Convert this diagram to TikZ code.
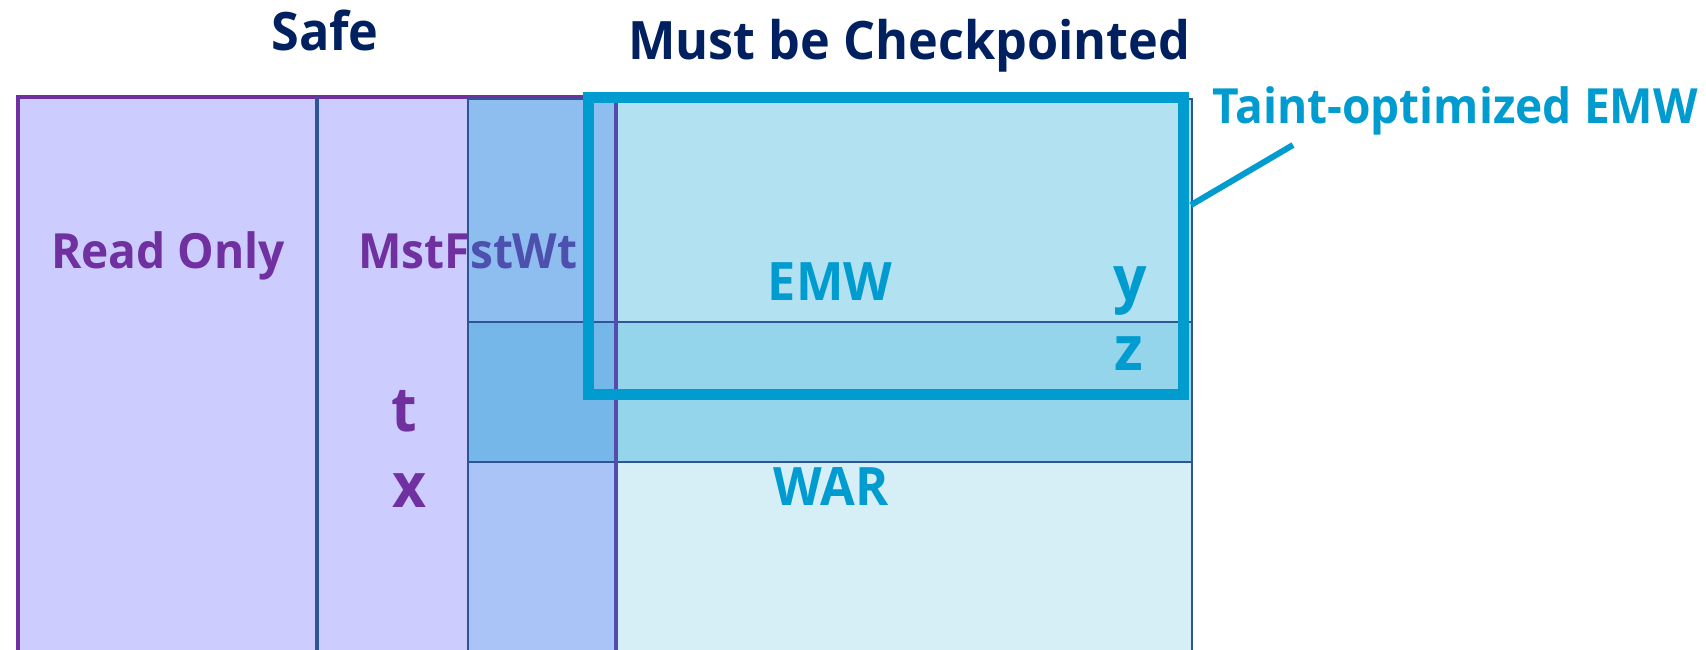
\documentclass[tikz,border=0pt]{standalone}
\usepackage{fontspec}
\setmainfont{Open Sans}[FakeStretch=0.95]
\definecolor{ropurple}{HTML}{7030A0}
\definecolor{rofill}{HTML}{CCCCFF}
\definecolor{darkrule}{HTML}{2F5597}
\definecolor{emwcyan}{HTML}{009BCF}
\definecolor{navytext}{HTML}{002060}
\tikzset{
  lbl/.style={anchor=base, inner sep=0pt, font=\bfseries\fontsize{48.5}{52}\selectfont},
  biglbl/.style={anchor=base, inner sep=0pt, font=\bfseries\fontsize{53}{56}\selectfont},
  var/.style={anchor=base, inner sep=0pt, font=\bfseries\fontsize{62}{66}\selectfont},
  head/.style={anchor=base, inner sep=0pt, text=navytext, font=\bfseries\fontsize{53}{58}\selectfont},
  band/.style={fill=emwcyan},
  rule/.style={draw=darkrule, line width=2.5pt},
}
\begin{document}
\begin{tikzpicture}[x=1pt, y=-1pt]
  \useasboundingbox (0,0) rectangle (1706,650);
  \clip (0,0) rectangle (1706,650);

  % safe region: read-only and must-first-write columns
  \draw[fill=rofill, draw=ropurple, line width=4pt] (18,97) rectangle (616,680);
  \draw[draw=darkrule, line width=4pt] (317,97) -- (317,680);
  \node[lbl, text=ropurple] (ro) at (168,268) {Read Only};
  \node[lbl, text=ropurple] (mfw) at (468,268) {MstFstWt};
  \node[var, text=ropurple] (t) at (404,431) {t};
  \node[var, text=ropurple] (x) at (410,507) {x};

  % translucent memory bands over the columns
  \fill[band, fill opacity=0.30] (468,99) rectangle (1192,322);
  \fill[band, fill opacity=0.42] (468,322) rectangle (1192,462);
  \fill[band, fill opacity=0.16] (468,462) rectangle (1192,680);
  \draw[rule] (468,680) -- (468,99) -- (1192,99) -- (1192,680);
  \draw[rule] (468,322) -- (1192,322);
  \draw[rule] (468,462) -- (1192,462);
  \draw[draw=ropurple!75!emwcyan, line width=4pt] (616,99) -- (616,680);

  \node[biglbl, text=emwcyan] (emw) at (830,300) {EMW};
  \node[var, text=emwcyan] (y) at (1130,300) {y};
  \node[var, text=emwcyan] (z) at (1129,370) {z};
  \node[biglbl, text=emwcyan] (war) at (831,505) {WAR};

  % taint-optimized EMW box and its label
  \node[draw=emwcyan, line width=11pt, inner sep=0pt, outer sep=0pt, anchor=north west,
        minimum width=595pt, minimum height=296pt] (emwbox) at (588,98) {};
  \node[lbl, anchor=base west, text=emwcyan] (taint) at (1212,124) {Taint-optimized EMW};
  \coordinate (leadA) at (1191,205);
  \coordinate (leadB) at (1293,145);
  \draw[emwcyan, line width=6pt] (leadA) -- (leadB);

  % headings
  \node[head] (safe) at (325,51) {Safe};
  \node[head, anchor=base west] (must) at (628,60) {Must be Checkpointed};
\end{tikzpicture}
\end{document}
